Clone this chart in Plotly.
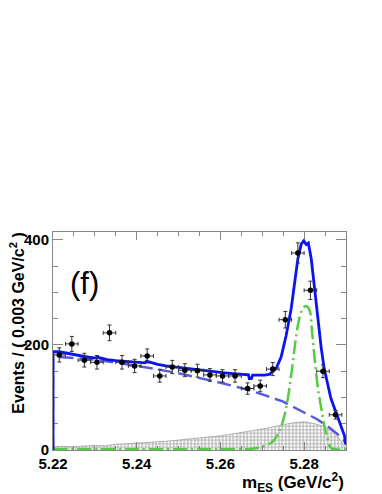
# IMPORT LIBRARIES
import numpy as np
import plotly.graph_objs as go


##### DATA
# data points, bins of 0.003 GeV/c2 from 5.22
mes_centers = [5.2215, 5.2245, 5.2275, 5.2305, 5.2335, 5.2365, 5.2395, 5.2425,
               5.2455, 5.2485, 5.2515, 5.2545, 5.2575, 5.2605, 5.2635, 5.2665,
               5.2695, 5.2725, 5.2755, 5.2785, 5.2815, 5.2845, 5.2875]
events = [181, 202, 171, 167, 223, 167, 160, 179,
          141, 158, 152, 151, 143, 141, 141, 117,
          122, 154, 248, 375, 304, 150, 67]

# total fit (blue solid)
tot_x = [5.2200, 5.2200, 5.2215, 5.2225, 5.2235, 5.2245, 5.2255, 5.2265, 5.2275, 5.2285,
         5.2295, 5.2303, 5.2305, 5.2315, 5.2330, 5.2350, 5.2370, 5.2390, 5.2410, 5.2420,
         5.2423, 5.2435, 5.2450, 5.2470, 5.2490, 5.2510, 5.2530, 5.2550, 5.2570, 5.2590,
         5.2610, 5.2630, 5.2650, 5.2667, 5.2669, 5.2674, 5.2677, 5.2690, 5.2705, 5.2717,
         5.2733, 5.2745, 5.2757, 5.2769, 5.2777, 5.2785, 5.2793, 5.2799, 5.2805, 5.2810,
         5.2817, 5.2825, 5.2833, 5.2841, 5.2848, 5.2856, 5.2864, 5.2876, 5.2888, 5.2896,
         5.2900]
tot_y = [0, 187, 187, 185.5, 184, 182, 180, 179, 178, 177,
         175.5, 175, 177, 175, 172, 170, 168.5, 167, 166, 166,
         169, 166, 163, 160, 158, 156, 154, 152, 150, 148.5,
         147, 145.5, 144, 143, 136, 136, 142.5, 142, 142.5, 144,
         155, 177, 218, 269, 320, 364, 392, 398, 391, 394,
         364, 307, 243, 193, 155, 123, 98, 72, 47, 28,
         10]

# combinatorial background (blue dashed)
bkg_x = [5.2200, 5.2200, 5.225, 5.230, 5.235, 5.240, 5.245, 5.250, 5.255, 5.260,
         5.265, 5.270, 5.275, 5.280, 5.283, 5.286, 5.288, 5.2895, 5.2900]
bkg_y = [0, 178, 175, 172, 166.5, 160.5, 153.5, 146, 137.5, 128,
         118, 106, 92, 72, 59, 43, 30, 18, 11]

# signal (green dash-dot)
sig_x = [5.220, 5.240, 5.260, 5.266, 5.268, 5.2705, 5.2725, 5.2741, 5.2753, 5.2761,
         5.2769, 5.2777, 5.2785, 5.2793, 5.2800, 5.2805, 5.2813, 5.2819, 5.2825, 5.2833,
         5.2841, 5.2848, 5.2856, 5.2864, 5.2875, 5.2900]
sig_y = [1.5, 1.5, 1.5, 1.5, 3, 8, 16, 36, 66, 98,
         142, 193, 237, 263, 272, 274, 266, 224, 174, 117,
         79, 47, 22, 4, 1.5, 1.5]

# peaking background (hatched)
peak_x = [5.2200, 5.2225, 5.2250, 5.2275, 5.2300, 5.2325, 5.2350, 5.2375, 5.2400, 5.2425,
          5.2450, 5.2475, 5.2500, 5.2525, 5.2550, 5.2575, 5.2600, 5.2625, 5.2650, 5.2675,
          5.2700, 5.2725, 5.2750, 5.2775, 5.2800, 5.2825, 5.2850, 5.2875, 5.2900]
peak_y = [6, 7, 6, 8, 9, 8, 11, 12, 13, 15,
          16, 17, 19, 21, 22, 25, 27, 30, 33, 36,
          40, 44, 48, 52, 54, 50, 44, 32, 3]


##### FIGURE
FONT = "Liberation Sans"
fig = go.Figure()

# hatched peaking background
fig.add_trace(go.Scatter(
    x=peak_x, y=peak_y, mode='lines', line=dict(color='#888888', width=0.6),
    fill='tozeroy', fillcolor='rgba(255,255,255,0)',
    fillpattern=dict(shape='+', fgcolor='#555555', bgcolor='rgba(255,255,255,0)', size=3.5, solidity=0.5),
    hoverinfo='skip'))

# background dashed
fig.add_trace(go.Scatter(x=bkg_x, y=bkg_y, mode='lines',
                         line=dict(color='#5a5ae0', width=2.5, dash='14px,6px')))

# signal dash-dot
fig.add_trace(go.Scatter(x=sig_x, y=sig_y, mode='lines', line_shape='spline',
                         line=dict(color='#55cc44', width=2.5, dash='14px,4px,2px,4px')))

# total fit
fig.add_trace(go.Scatter(x=tot_x, y=tot_y, mode='lines',
                         line=dict(color='#0a14f0', width=2.8)))

# data points
fig.add_trace(go.Scatter(
    x=mes_centers, y=events, mode='markers',
    marker=dict(color='black', size=5.5),
    error_y=dict(type='data', array=np.sqrt(events), color='#333333', thickness=1, width=2),
    error_x=dict(type='constant', value=0.0015, color='#333333', thickness=1, width=2)))


##### LAYOUT
# the page body adds 8px on the left and top, so the figure is 8px smaller
axis_common = dict(showline=True, linecolor='#888888', linewidth=1, mirror='ticks',
                   ticks='inside', tickcolor='#888888', showgrid=False, zeroline=False,
                   layer='below traces',
                   tickfont=dict(family=FONT, size=15, color='black', weight='bold'))

fig.update_layout(
    width=374, height=486,
    margin=dict(l=45, r=36, t=224, b=44),
    paper_bgcolor='white', plot_bgcolor='white',
    showlegend=False,
    xaxis=dict(range=[5.22, 5.29], tick0=5.22, dtick=0.02, tickformat='.2f', ticklen=8,
               minor=dict(ticks='inside', dtick=0.005, ticklen=4, tickcolor='#888888'),
               **axis_common),
    yaxis=dict(range=[0, 415], tick0=0, dtick=200, ticklen=10,
               minor=dict(ticks='inside', dtick=50, ticklen=5, tickcolor='#888888'),
               **axis_common),
)

fig.add_annotation(text='(f)', x=5.2276, y=317, xref='x', yref='y', showarrow=False,
                   font=dict(family=FONT, size=31, color='black'))

fig.add_annotation(text='<b>Events / ( 0.003 GeV/c<sup>2</sup> )</b>', textangle=-90,
                   xref='paper', yref='paper', x=-0.122, y=1.005, xanchor='center', yanchor='top',
                   showarrow=False, font=dict(family=FONT, size=16, color='black'))

fig.add_annotation(text='<b>m<sub>ES</sub> (GeV/c<sup>2</sup>)</b>',
                   xref='paper', yref='paper', x=1.0, y=-0.147, xanchor='right', yanchor='middle',
                   showarrow=False, font=dict(family=FONT, size=17, color='black'))

fig.write_html("out.html")
